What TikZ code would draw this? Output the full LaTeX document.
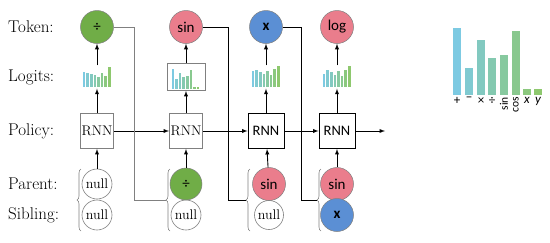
\documentclass[tikz,border=0pt]{standalone}
\usepackage{fontspec}
\newfontfamily\cali{Carlito}
\usetikzlibrary{arrows}
\usetikzlibrary{decorations.pathreplacing}
\definecolor{tokgreen}{RGB}{112,173,71}
\definecolor{tokpink}{RGB}{234,125,140}
\definecolor{tokblue}{RGB}{91,143,212}
\definecolor{lgblue}{RGB}{125,202,226}
\definecolor{lggreen}{RGB}{142,200,110}
\definecolor{dimgray}{RGB}{128,128,128}

% small bar chart inside a logits node: node, left offset, heights
\newcommand{\logitbars}[3]{%
  \foreach \h [count=\i] in {#3} {
    \pgfmathsetmacro{\mix}{(\i-1)*100/7}
    \fill[lggreen!\mix!lgblue] ([xshift=#2pt+\i*3.6pt-3.6pt, yshift=2pt]#1.south west)
      rectangle ++(2.6,-\h);
  }}

\begin{document}
\begin{tikzpicture}[x=1pt, y=-1pt,
  tok/.style={circle, draw=dimgray, line width=0.5pt, minimum size=33pt, inner sep=0pt,
    font=\cali\fontsize{15}{15}\selectfont},
  nulltok/.style={circle, draw=dimgray, line width=0.6pt, minimum size=30pt, inner sep=0pt,
    font=\fontsize{14}{14}\selectfont},
  rnnold/.style={draw=dimgray, line width=0.9pt, minimum width=33pt, minimum height=35pt,
    inner sep=0pt, font=\fontsize{14}{14}\selectfont},
  rnnnew/.style={draw, line width=0.9pt, minimum width=36pt, minimum height=35pt,
    inner sep=0pt, font=\cali\fontsize{14.5}{14}\selectfont},
  lbl/.style={anchor=west, inner sep=0pt, font=\fontsize{17}{17}\selectfont},
  logit/.style={minimum width=30pt, minimum height=23pt, inner sep=0pt},
  link/.style={line width=1pt},
  arr/.style={->, >=latex, line width=0.9pt},
  brc/.style={decorate, decoration={brace, amplitude=4pt}, line width=0.6pt, dimgray}]

\useasboundingbox (0,0) rectangle (550,242);

%---------------------------------------
% Positions
%---------------------------------------
\def\xA{97}
\def\xB{186}
\def\xC{266}
\def\xD{337}

\def\yTok{27}
\def\yLog{77}
\def\yPol{131}
\def\yPar{184}
\def\ySib{215}

% Row labels
\node[lbl] (lTok) at (8,\yTok) {Token:};
\node[lbl] (lLog) at (8,\yLog) {Logits:};
\node[lbl] (lPol) at (8,\yPol) {Policy:};
\node[lbl] (lPar) at (8,\yPar) {Parent:};
\node[lbl] (lSib) at (8,\ySib) {Sibling:};

%====================================================
% Column 1
%====================================================
\node[tok, fill=tokgreen] (tok1) at (\xA,\yTok) {÷};
\node[logit] (lg1) at (\xA,\yLog) {};
\logitbars{lg1}{1}{15,14,13,12,10,14,11,20}
\node[rnnold] (rnn1) at (\xA,\yPol) {RNN};
\node[nulltok] (par1) at (\xA,\yPar) {null};
\node[nulltok] (sib1) at (\xA,\ySib) {null};

%====================================================
% Column 2
%====================================================
\node[tok, fill=tokpink] (tok2) at (\xB,\yTok) {sin};
\node[logit, draw=dimgray, line width=0.8pt, minimum width=38pt, minimum height=27pt] (lg2) at (\xB,\yLog) {};
\logitbars{lg2}{5}{20,10,16,12,13,19,2,2}
\node[rnnold] (rnn2) at (\xB,\yPol) {RNN};
\node[tok, fill=tokgreen, minimum size=32pt] (par2) at (\xB,\yPar) {÷};
\node[nulltok] (sib2) at (\xB,\ySib) {null};

%====================================================
% Column 3
%====================================================
\node[tok, fill=tokblue] (tok3) at (\xC,\yTok) {\textbf{x}};
\node[logit] (lg3) at (\xC,\yLog) {};
\logitbars{lg3}{1}{16,17,15,13,16,12,18,21}
\node[rnnnew] (rnn3) at (\xC,\yPol) {RNN};
\node[tok, fill=tokpink] (par3) at (\xC+3,\yPar) {sin};
\node[nulltok, minimum size=29pt] (sib3) at (\xC+3,\ySib) {null};

%====================================================
% Column 4
%====================================================
\node[tok, fill=tokpink] (tok4) at (\xD,\yTok) {log};
\node[logit] (lg4) at (\xD,\yLog) {};
\logitbars{lg4}{1}{13,17,15,12,16,11,17,21}
\node[rnnnew] (rnn4) at (\xD,\yPol) {RNN};
\node[tok, fill=tokpink] (par4) at (\xD,\yPar) {sin};
\node[tok, fill=tokblue] (sib4) at (\xD,\ySib) {\textbf{x}};

% Braces round parent and sibling
\foreach \c/\n in {\xA/1, \xB/2, \xC/3, \xD/4} {
  \draw[brc] (\c-16,231) -- (\c-16,169);
  \coordinate (br\n) at (\c-20,200);
}

% Vertical arrows
\foreach \n in {1,2,3,4} {
  \draw[arr] (rnn\n) -- (lg\n);
  \draw[arr] (lg\n) -- (tok\n);
  \draw[arr] (par\n) -- (rnn\n);
}

% Recurrent arrows
\coordinate (out) at (385,\yPol);
\draw[arr] (rnn1) -- (rnn2);
\draw[arr] (rnn2) -- (rnn3);
\draw[arr] (rnn3) -- (rnn4);
\draw[arr] (rnn4) -- (out);

% Token fed back as parent / sibling
\coordinate (k1) at (134,200);
\coordinate (k2) at (228,200);
\coordinate (k3) at (301,200);
\draw[link, dimgray] (tok1.east) -| (k1) -- (br2);
\draw[link] (tok2.east) -| (k2) -- (br3);
\draw[link] (tok3.east) -| (k3) -- (br4);

%====================================================
% Right: full logits
%====================================================
\foreach \lab/\bx/\top [count=\i] in {+/453/28, −/465/68, ×/477/40, ÷/488/58, {\itshape x}/523/89, {\itshape y}/534/89} {
  \pgfmathsetmacro{\mix}{(\bx-453)*100/81}
  \fill[lggreen!\mix!lgblue] (\bx,95) rectangle (\bx+8,\top);
  \node[anchor=north, inner sep=0pt, font=\cali\fontsize{13}{13}\selectfont] (op\i) at (\bx+4,97) {\lab};
}
\foreach \lab/\bx/\top [count=\i] in {sin/500/55, cos/512/31} {
  \pgfmathsetmacro{\mix}{(\bx-453)*100/81}
  \fill[lggreen!\mix!lgblue] (\bx,95) rectangle (\bx+8,\top);
  \node[anchor=east, rotate=90, inner sep=0pt, font=\cali\fontsize{11.5}{11}\selectfont] (fn\i) at (\bx+4,97) {\lab};
}

\end{tikzpicture}
\end{document}
